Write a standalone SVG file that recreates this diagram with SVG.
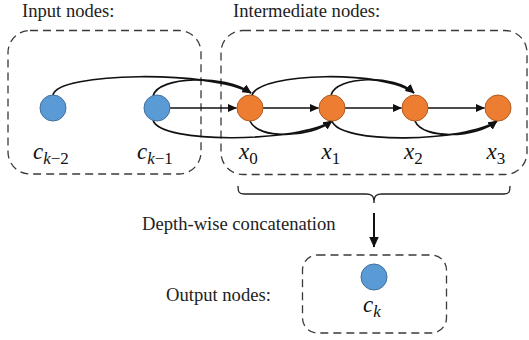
<svg xmlns="http://www.w3.org/2000/svg" width="529" height="340" viewBox="0 0 529 340">
<defs>
<marker id="ah" markerWidth="9" markerHeight="8" refX="8.5" refY="4" orient="auto" markerUnits="userSpaceOnUse">
<path d="M0,0 L9,4 L0,8 Z" fill="#111"/>
</marker>
<marker id="ahBig" markerWidth="11" markerHeight="11" refX="10.5" refY="5" orient="auto" markerUnits="userSpaceOnUse">
<path d="M0,0 L11,5 L0,10 Z" fill="#111"/>
</marker>
<style>
.box{fill:none;stroke:#3a3a3a;stroke-width:1.3;stroke-dasharray:8 5}
.blue{fill:#5B9BD5;stroke:#41719C;stroke-width:1}
.orange{fill:#ED7D31;stroke:#AE5A21;stroke-width:1}
.title{font-family:"Liberation Serif","Times New Roman",serif;font-size:18.6px;fill:#222}
.math{font-family:"Liberation Serif","Times New Roman",serif;font-size:23px;font-style:italic;fill:#111}
.sub{font-size:17px}
.up{font-style:normal}
.edge{fill:none;stroke:#111;stroke-width:1.7;marker-end:url(#ah)}
</style>
</defs>
<rect width="529" height="340" fill="#fff"/>

<g id="input-group">
<rect class="box" x="8" y="30.5" width="193" height="143.5" rx="22"/>
<text class="title" x="22" y="17">Input nodes:</text>
</g>
<g id="intermediate-group">
<rect class="box" x="221" y="30.5" width="306" height="144" rx="22"/>
<text class="title" x="233" y="17">Intermediate nodes:</text>
</g>
<g id="output-group">
<rect class="box" x="302.5" y="255" width="144" height="78" rx="15"/>
<text class="title" x="166" y="301">Output nodes:</text>
</g>

<g id="connectors">
<path class="edge" d="M53,95 C57,72 212,70 251,93"/>
<path class="edge" d="M153,96 C158,76 225,74 251,93"/>
<line class="edge" x1="170" y1="108" x2="236.5" y2="108"/>
<path class="edge" d="M252,95 C260,72 385,70 414,93"/>
<path class="edge" d="M331,95 C336,76 395,74 414,93"/>
<line class="edge" x1="263" y1="108" x2="318.5" y2="108"/>
<line class="edge" x1="345" y1="108" x2="401.5" y2="108"/>
<line class="edge" x1="428" y1="108" x2="484.5" y2="108"/>
<path class="edge" d="M153,120 C160,145 300,142 332,121"/>
<path class="edge" d="M250,121 C258,140 310,138 332,121"/>
<path class="edge" d="M332,121 C340,145 465,142 497,121"/>
<path class="edge" d="M415,121 C423,140 476,138 497,121"/>
<path d="M238,186 C238,192 239,194 244,194 L366,194 C371,194 374,195 374,203 C374,195 377,194 382,194 L504,194 C509,194 510,192 510,186" fill="none" stroke="#222" stroke-width="1.3"/>
<line x1="374" y1="213" x2="374" y2="247" stroke="#111" stroke-width="2" marker-end="url(#ahBig)"/>
<text class="title" x="142" y="230">Depth-wise concatenation</text>
</g>

<g id="node-ck-2">
<circle class="blue" cx="53" cy="108" r="13"/>
<text class="math" x="33" y="158.5">c<tspan class="sub" dy="5.5">k<tspan class="up">−2</tspan></tspan></text>
</g>
<g id="node-ck-1">
<circle class="blue" cx="157" cy="108" r="13"/>
<text class="math" x="137" y="158.5">c<tspan class="sub" dy="5.5">k<tspan class="up">−1</tspan></tspan></text>
</g>
<g id="node-x0">
<circle class="orange" cx="250" cy="108" r="13"/>
<text class="math" x="239" y="158.5">x<tspan class="sub up" dy="5.5">0</tspan></text>
</g>
<g id="node-x1">
<circle class="orange" cx="332" cy="108" r="13"/>
<text class="math" x="321.5" y="158.5">x<tspan class="sub up" dy="5.5">1</tspan></text>
</g>
<g id="node-x2">
<circle class="orange" cx="415" cy="108" r="13"/>
<text class="math" x="404" y="158.5">x<tspan class="sub up" dy="5.5">2</tspan></text>
</g>
<g id="node-x3">
<circle class="orange" cx="498" cy="108" r="13"/>
<text class="math" x="486.5" y="158.5">x<tspan class="sub up" dy="5.5">3</tspan></text>
</g>
<g id="node-ck">
<circle class="blue" cx="374" cy="277" r="13"/>
<text class="math" x="363" y="311.5">c<tspan class="sub" dy="5.5">k</tspan></text>
</g>
</svg>
